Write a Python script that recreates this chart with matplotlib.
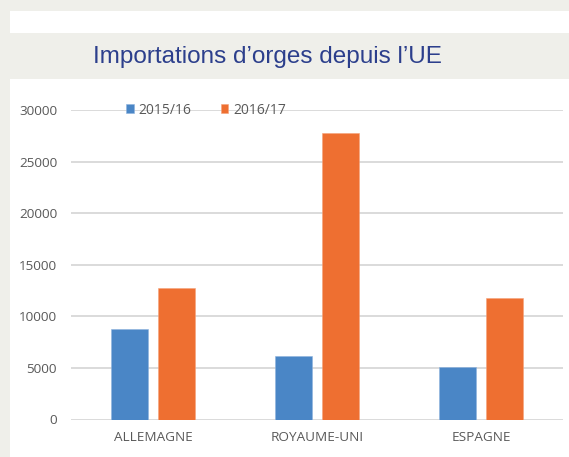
import numpy as np
import matplotlib
matplotlib.use("Agg")
import matplotlib.pyplot as plt
from matplotlib.patches import Rectangle
from matplotlib import font_manager

categories = ["ALLEMAGNE", "ROYAUME-UNI", "ESPAGNE"]
series_names = ["2015/16", "2016/17"]
v_2015 = [8750, 6150, 5100]
v_2016 = [12700, 27800, 11750]
yticks = [0, 5000, 10000, 15000, 20000, 25000, 30000]
title = "Importations d\u2019orges depuis l\u2019UE"

def has_font(name):
    try:
        font_manager.findfont(name, fallback_to_default=False)
        return True
    except Exception:
        return False

body_font = "Open Sans" if has_font("Open Sans") else "DejaVu Sans"
narrow = has_font("Liberation Sans Narrow")
title_font = "Liberation Sans Narrow" if narrow else "Liberation Sans"
title_size = 21 if narrow else 17.5

W, H = 569, 457
fig = plt.figure(figsize=(W / 100, H / 100), dpi=100)
fig.patch.set_facecolor("#efefea")

# white strip on top and white panel behind chart
def px_rect(x0, y0, x1, y1, color):
    fig.patches.append(Rectangle((x0 / W, 1 - y1 / H), (x1 - x0) / W, (y1 - y0) / H,
                                 transform=fig.transFigure, facecolor=color,
                                 edgecolor="none", zorder=-10))

px_rect(10, 11, W, 33, "white")
px_rect(10, 79, W, H, "white")

fig.text(267 / W, 1 - 57 / H, title, ha="center", va="center",
         fontsize=title_size, color="#2c3f8c", family=title_font)

ax = fig.add_axes([71 / W, (H - 419.5) / H, 492 / W, 309.5 / H])
ax.set_facecolor("none")

x = np.arange(len(categories))
bw = 0.226
off = 0.143
ax.bar(x - off, v_2015, bw, color="#4a86c6", edgecolor="#8db3dd", linewidth=0.4,
       label=series_names[0], zorder=3)
ax.bar(x + off, v_2016, bw, color="#ee6f31", edgecolor="#f5a37c", linewidth=0.4,
       label=series_names[1], zorder=3)

ax.set_xlim(-0.5, 2.5)
ax.set_ylim(0, 30000)
ax.set_yticks(yticks)
ax.set_yticklabels([str(t) for t in yticks])
ax.set_xticks(x)
ax.set_xticklabels(categories)
ax.yaxis.grid(True, color="#d4d4d4", linewidth=1.2, zorder=0)
ax.set_axisbelow(True)
for s in ax.spines.values():
    s.set_visible(False)
ax.tick_params(axis="both", length=0, colors="#595959", labelsize=9.7)
ax.tick_params(axis="y", pad=10)
ax.tick_params(axis="x", pad=8)
for lab in ax.get_xticklabels() + ax.get_yticklabels():
    lab.set_family(body_font)

leg = ax.legend(loc="center left", bbox_to_anchor=(0.087, 1.0), ncol=2, frameon=False,
                handlelength=0.55, handleheight=0.55, handletextpad=0.35, columnspacing=2.1,
                prop={"family": body_font, "size": 10})
for t in leg.get_texts():
    t.set_color("#595959")

fig.savefig("out.png", dpi=100)
